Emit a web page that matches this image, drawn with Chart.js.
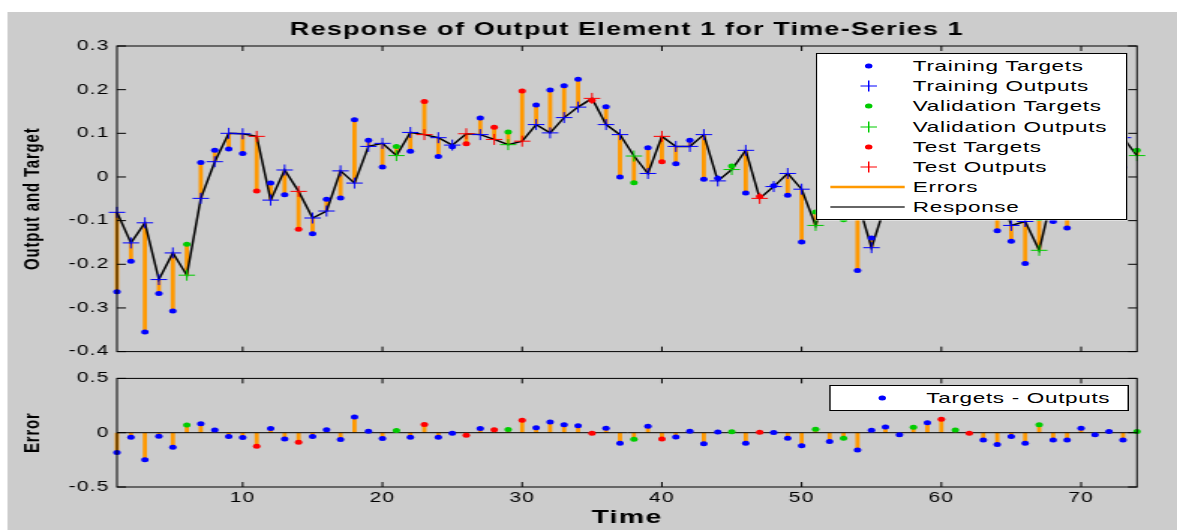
<!DOCTYPE html>
<html>
<head>
<meta charset="utf-8">
<title>Response of Output Element 1 for Time-Series 1</title>
<script src="https://cdn.jsdelivr.net/npm/chart.js@4.4.1/dist/chart.umd.min.js"></script>
<style>
  html, body { margin: 0; padding: 0; background: #fff; overflow: hidden; }
  /* the figure is laid out 785px wide and stretched to the window width */
  #fig { position: absolute; left: 0; top: 0; width: 785px; height: 530px; transform: scaleX(1.49936); transform-origin: 0 0; }
  #bg { position: absolute; left: 4.7px; top: 12px; right: 0; bottom: 0; background: #cccccc; }
  #topChart { position: absolute; left: 0; top: 0; }
  #errChart { position: absolute; left: 0; top: 365px; }
  .legend { position: absolute; background: #fff; border: 1px solid #000; box-sizing: border-box;
            font: 15px 'Liberation Sans', Arial, Helvetica, sans-serif; letter-spacing: 0.45px; color: #000; }
  .row { position: absolute; left: 0; width: 100%; height: 20px; }
  .row svg { position: absolute; left: 0; top: 0; }
  .row span { position: absolute; left: 63.8px; top: 0; line-height: 20px; white-space: nowrap; }
</style>
</head>
<body>
<div id="fig">
  <div id="bg"></div>
  <canvas id="topChart" width="785" height="365"></canvas>
  <canvas id="errChart" width="785" height="165"></canvas>
  <div class="legend" id="topLegend" style="left:544px; top:53px; width:207.5px; height:167px;"></div>
  <div class="legend" id="errLegend" style="left:553px; top:385px; width:199.5px; height:26px;"></div>
</div>
<script>
const FONT = "'Liberation Sans', Arial, Helvetica, sans-serif";

// time steps
const time = [1, 2, 3, 4, 5, 6, 7, 8, 9, 10, 11, 12, 13, 14, 15, 16, 17, 18, 19, 20,
  21, 22, 23, 24, 25, 26, 27, 28, 29, 30, 31, 32, 33, 34, 35, 36, 37, 38, 39, 40,
  41, 42, 43, 44, 45, 46, 47, 48, 49, 50, 51, 52, 53, 54, 55, 56, 57, 58, 59, 60,
  61, 62, 63, 64, 65, 66, 67, 68, 69, 70, 71, 72, 73, 74];

// T = training, V = validation, S = test
const subset = [
  'T', 'T', 'T', 'T', 'T', 'V', 'T', 'T', 'T', 'T',
  'S', 'T', 'T', 'S', 'T', 'T', 'T', 'T', 'T', 'T',
  'V', 'T', 'S', 'T', 'T', 'S', 'T', 'S', 'V', 'S',
  'T', 'T', 'T', 'T', 'S', 'T', 'T', 'V', 'T', 'S',
  'T', 'T', 'T', 'T', 'V', 'T', 'S', 'T', 'T', 'T',
  'V', 'T', 'V', 'T', 'T', 'T', 'T', 'V', 'T', 'S',
  'V', 'S', 'T', 'T', 'T', 'T', 'V', 'T', 'T', 'T',
  'T', 'T', 'T', 'V'];

const targets = [
  -0.263, -0.193, -0.355, -0.267, -0.307, -0.154, 0.033, 0.061, 0.064, 0.054,
  -0.032, -0.014, -0.041, -0.120, -0.130, -0.051, -0.048, 0.131, 0.084, 0.023,
  0.070, 0.059, 0.173, 0.047, 0.069, 0.076, 0.135, 0.114, 0.103, 0.197,
  0.165, 0.199, 0.209, 0.224, 0.175, 0.161, 0.000, -0.013, 0.067, 0.035,
  0.030, 0.084, -0.005, -0.003, 0.025, -0.037, -0.045, -0.020, -0.042, -0.149,
  -0.080, -0.090, -0.098, -0.214, -0.140, -0.011, -0.018, 0.070, 0.142, 0.193,
  0.085, 0.035, -0.068, -0.123, -0.147, -0.198, -0.095, -0.102, -0.117, 0.020,
  0.012, 0.072, 0.022, 0.061];

const outputs = [
  -0.081, -0.151, -0.105, -0.235, -0.174, -0.225, -0.049, 0.035, 0.100, 0.099,
  0.093, -0.053, 0.016, -0.033, -0.094, -0.078, 0.014, -0.014, 0.070, 0.077,
  0.049, 0.102, 0.097, 0.090, 0.073, 0.099, 0.097, 0.086, 0.074, 0.082,
  0.120, 0.101, 0.136, 0.160, 0.180, 0.120, 0.097, 0.048, 0.008, 0.093,
  0.070, 0.070, 0.097, -0.009, 0.017, 0.061, -0.049, -0.022, 0.008, -0.028,
  -0.111, -0.010, -0.048, -0.054, -0.162, -0.063, 0.000, 0.020, 0.050, 0.070,
  0.060, 0.040, 0.000, -0.015, -0.111, -0.102, -0.168, -0.034, -0.049, -0.020,
  0.030, 0.060, 0.090, 0.049];

const xTicks = [10, 20, 30, 40, 50, 60, 70];
const yTicksTop = [-0.4, -0.3, -0.2, -0.1, 0, 0.1, 0.2, 0.3];
const yTicksErr = [-0.5, 0, 0.5];

const groups = [
  { code: 'T', name: 'Training', color: '#0000ff' },
  { code: 'V', name: 'Validation', color: '#00cc00' },
  { code: 'S', name: 'Test', color: '#ff0000' }
];
const ERR_COLOR = '#ff9900';

const errors = targets.map((t, i) => t - outputs[i]);

function pick(values, code) {
  const pts = [];
  time.forEach((t, i) => { if (subset[i] === code) pts.push({ x: t, y: values[i] }); });
  return pts;
}

// vertical stems from a to b, broken up by null points
function stems(from, to) {
  const pts = [];
  time.forEach((t, i) => {
    pts.push({ x: t, y: from[i] }, { x: t, y: to[i] }, { x: t, y: null });
  });
  return pts;
}

function fmt(v) {
  return Math.abs(v) < 1e-9 ? '0' : String(v);
}

// MATLAB style frame: box and inward ticks on all four sides
const frame = {
  id: 'frame',
  beforeDraw(chart) {
    chart.ctx.letterSpacing = '0.8px';
  },
  afterDraw(chart) {
    const { ctx, chartArea: a, scales: { x, y } } = chart;
    ctx.save();
    ctx.strokeStyle = '#000';
    ctx.lineWidth = 1;
    ctx.beginPath();
    x.ticks.forEach(t => {
      const px = x.getPixelForValue(t.value);
      ctx.moveTo(px, a.bottom); ctx.lineTo(px, a.bottom - 5);
      ctx.moveTo(px, a.top); ctx.lineTo(px, a.top + 5);
    });
    y.ticks.forEach(t => {
      const py = y.getPixelForValue(t.value);
      ctx.moveTo(a.left, py); ctx.lineTo(a.left + 6, py);
      ctx.moveTo(a.right, py); ctx.lineTo(a.right - 6, py);
    });
    ctx.stroke();
    ctx.strokeRect(a.left, a.top, a.right - a.left, a.bottom - a.top);
    ctx.restore();
  }
};

function yScale(min, max, ticks, title) {
  return {
    min: min, max: max,
    grid: { display: false, drawTicks: false },
    border: { display: false },
    afterBuildTicks: s => { s.ticks = ticks.map(v => ({ value: v })); },
    ticks: { padding: 5, color: '#000', font: { family: FONT, size: 14 }, callback: v => fmt(v) },
    title: { display: true, text: title, color: '#000',
             font: { family: FONT, size: 15, weight: 'bold' }, padding: { top: 13, bottom: 0 } },
    afterFit: s => { s.width = 78; }
  };
}

// ---- response plot ----
const topSets = [];
groups.forEach(g => {
  topSets.push({ label: g.name + ' Targets', data: pick(targets, g.code), pointStyle: 'circle',
    pointRadius: 2.5, backgroundColor: g.color, borderColor: g.color, borderWidth: 0, clip: false, order: 1 });
  topSets.push({ label: g.name + ' Outputs', data: pick(outputs, g.code), pointStyle: 'cross',
    pointRadius: 5.5, borderColor: g.color, backgroundColor: g.color, borderWidth: 1, clip: false, order: 1 });
});
topSets.push({ label: 'Response', data: time.map((t, i) => ({ x: t, y: outputs[i] })), showLine: true,
  borderColor: '#000', borderWidth: 1.5, pointRadius: 0, clip: false, order: 2 });
topSets.push({ label: 'Errors', data: stems(targets, outputs), showLine: true, spanGaps: false,
  borderColor: ERR_COLOR, borderWidth: 2.8, pointRadius: 0, clip: false, order: 3 });

new Chart(document.getElementById('topChart'), {
  type: 'scatter',
  data: { datasets: topSets },
  options: {
    responsive: false,
    animation: false,
    events: [],
    layout: { padding: { left: 0, right: 26.7, top: 0, bottom: 11 } },
    plugins: {
      legend: { display: false },
      tooltip: { enabled: false },
      title: {
        display: true, fullSize: false,
        text: 'Response of Output Element 1 for Time-Series 1',
        color: '#000',
        font: { family: FONT, size: 18, weight: 'bold' },
        padding: { top: 19, bottom: 5.4 }
      }
    },
    scales: {
      x: {
        type: 'linear', min: 1, max: 74,
        grid: { display: false, drawTicks: false },
        border: { display: false },
        ticks: { display: false },
        afterBuildTicks: s => { s.ticks = xTicks.map(v => ({ value: v })); },
        afterFit: s => { s.height = 0; }
      },
      y: yScale(-0.4, 0.3, yTicksTop, 'Output and Target')
    }
  },
  plugins: [frame]
});

// ---- error plot ----
const errSets = [];
groups.forEach(g => {
  errSets.push({ label: g.name + ' Errors', data: pick(errors, g.code), pointStyle: 'circle',
    pointRadius: 2.5, backgroundColor: g.color, borderColor: g.color, borderWidth: 0, clip: false, order: 1 });
});
errSets.push({ label: 'Zero', data: [{ x: time[0], y: 0 }, { x: time[time.length - 1], y: 0 }], showLine: true,
  borderColor: '#000', borderWidth: 1, pointRadius: 0, order: 2 });
errSets.push({ label: 'Stems', data: stems(errors.map(() => 0), errors), showLine: true, spanGaps: false,
  borderColor: ERR_COLOR, borderWidth: 2.8, pointRadius: 0, clip: false, order: 3 });

new Chart(document.getElementById('errChart'), {
  type: 'scatter',
  data: { datasets: errSets },
  options: {
    responsive: false,
    animation: false,
    events: [],
    layout: { padding: { left: 0, right: 26.7, top: 12, bottom: 0 } },
    plugins: { legend: { display: false }, tooltip: { enabled: false } },
    scales: {
      x: {
        type: 'linear', min: 1, max: 74,
        grid: { display: false, drawTicks: false },
        border: { display: false },
        afterBuildTicks: s => { s.ticks = xTicks.map(v => ({ value: v })); },
        ticks: { padding: 3, maxRotation: 0, autoSkip: false, color: '#000',
                 font: { family: FONT, size: 14 }, callback: v => String(v) },
        title: { display: true, text: 'Time', color: '#000',
                 font: { family: FONT, size: 19, weight: 'bold' }, padding: { top: 0, bottom: 0.5 } },
        afterFit: s => { s.height = 43; }
      },
      y: yScale(-0.5, 0.5, yTicksErr, 'Error')
    }
  },
  plugins: [frame]
});

// ---- legends (drawn over the axes like MATLAB's boxed legends) ----
function marker(kind, color) {
  if (kind === 'dot') return '<circle cx="34.4" cy="10" r="2.5" fill="' + color + '"/>';
  if (kind === 'plus') return '<path d="M28.9 10H39.9M34.4 4.5V15.5" stroke="' + color + '" stroke-width="1"/>';
  if (kind === 'err') return '<line x1="8.8" y1="10" x2="58.4" y2="10" stroke="' + color + '" stroke-width="2.3"/>';
  return '<line x1="8.8" y1="10" x2="58.4" y2="10" stroke="' + color + '" stroke-width="1.3"/>';
}

function fillLegend(el, items, top0) {
  items.forEach((it, i) => {
    const row = document.createElement('div');
    row.className = 'row';
    row.style.top = (top0 + i * 20.2) + 'px';
    row.innerHTML = '<svg width="70" height="20">' + marker(it.kind, it.color) + '</svg><span>' + it.text + '</span>';
    el.appendChild(row);
  });
}

const topItems = [];
groups.forEach(g => {
  topItems.push({ kind: 'dot', color: g.color, text: g.name + ' Targets' });
  topItems.push({ kind: 'plus', color: g.color, text: g.name + ' Outputs' });
});
topItems.push({ kind: 'err', color: ERR_COLOR, text: 'Errors' });
topItems.push({ kind: 'line', color: '#333', text: 'Response' });
fillLegend(document.getElementById('topLegend'), topItems, 2);
fillLegend(document.getElementById('errLegend'), [{ kind: 'dot', color: groups[0].color, text: 'Targets - Outputs' }], 2);
</script>
</body>
</html>
